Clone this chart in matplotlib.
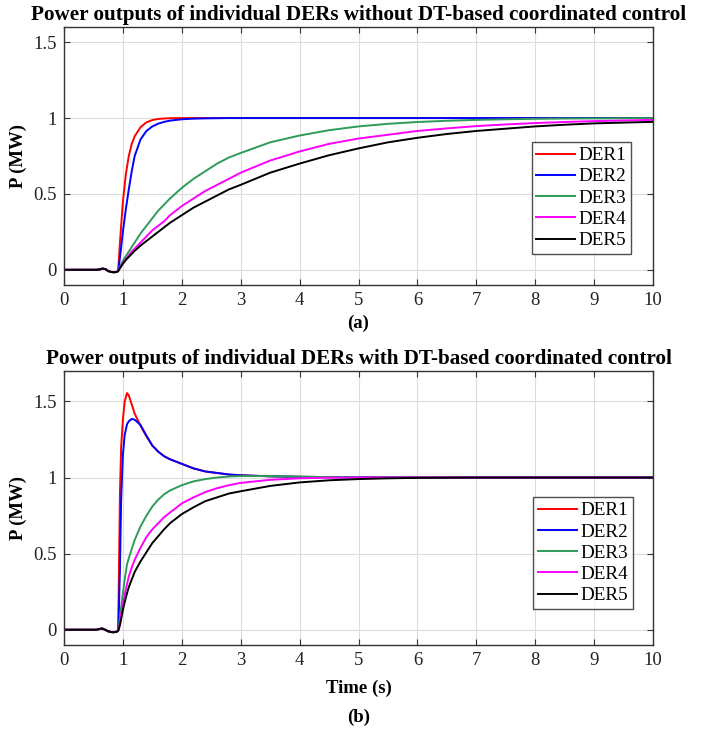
import numpy as np
import matplotlib
matplotlib.use("Agg")
import matplotlib.pyplot as plt

# ---------------------------------------------------------------------------
# Data
# ---------------------------------------------------------------------------
t_a = [0, 0.5, 0.55, 0.6, 0.65, 0.7, 0.75, 0.8, 0.85, 0.9, 0.92,
       0.95, 1.0, 1.05, 1.1, 1.15, 1.2, 1.3, 1.4, 1.5, 1.6, 1.7, 1.8,
       2.0, 2.2, 2.4, 2.6, 2.8,
       3.0, 3.5, 4.0, 4.5, 5.0, 5.5, 6.0, 6.5, 7.0, 7.5, 8.0, 8.5, 9.0, 9.5, 10.0]

pre_a = [0, 0, 0, 0.002, 0.008, 0.005, -0.008, -0.014, -0.016, -0.013, -0.008]

der1_a = pre_a + [0.18, 0.45, 0.63, 0.75, 0.83, 0.88, 0.94, 0.972, 0.987, 0.994, 0.997, 0.999,
                  1.0, 1.0, 1.0, 1.0, 1.0,
                  1.0, 1.0, 1.0, 1.0, 1.0, 1.0, 1.0, 1.0, 1.0, 1.0, 1.0, 1.0, 1.0, 1.0, 1.0]
der2_a = pre_a + [0.08, 0.25, 0.40, 0.53, 0.65, 0.75, 0.86, 0.915, 0.945, 0.963, 0.975, 0.983,
                  0.992, 0.996, 0.998, 0.999, 1.0,
                  1.0, 1.0, 1.0, 1.0, 1.0, 1.0, 1.0, 1.0, 1.0, 1.0, 1.0, 1.0, 1.0, 1.0, 1.0]
der3_a = pre_a + [0.02, 0.06, 0.09, 0.12, 0.15, 0.18, 0.24, 0.29, 0.34, 0.39, 0.43, 0.47,
                  0.54, 0.60, 0.65, 0.70, 0.74,
                  0.77, 0.84, 0.885, 0.92, 0.945, 0.962, 0.974, 0.982, 0.988, 0.992, 0.995,
                  0.997, 0.998, 0.999, 1.0]
der4_a = pre_a + [0.015, 0.045, 0.07, 0.095, 0.12, 0.14, 0.18, 0.22, 0.26, 0.29, 0.32, 0.36,
                  0.42, 0.47, 0.52, 0.56, 0.60,
                  0.64, 0.72, 0.78, 0.83, 0.865, 0.89, 0.915, 0.932, 0.947, 0.958, 0.967,
                  0.974, 0.98, 0.984, 0.988]
der5_a = pre_a + [0.01, 0.04, 0.065, 0.085, 0.105, 0.125, 0.16, 0.19, 0.22, 0.25, 0.28, 0.31,
                  0.36, 0.41, 0.45, 0.49, 0.53,
                  0.56, 0.64, 0.70, 0.755, 0.80, 0.84, 0.87, 0.895, 0.915, 0.93, 0.945,
                  0.956, 0.965, 0.97, 0.975]

t_b = [0, 0.5, 0.55, 0.6, 0.65, 0.7, 0.75, 0.8, 0.85, 0.9, 0.92,
       0.93, 0.95, 0.97, 1.0, 1.03, 1.07, 1.1, 1.15, 1.2, 1.3, 1.4, 1.5, 1.6, 1.7, 1.8,
       2.0, 2.2, 2.4, 2.6, 2.8,
       3.0, 3.5, 4.0, 4.5, 5.0, 5.5, 6.0, 6.5, 7.0, 7.5, 8.0, 8.5, 9.0, 9.5, 10.0]

pre_b = [0, 0, 0, 0.005, 0.008, 0.0, -0.01, -0.015, -0.016, -0.012, -0.006]

der1_b = pre_b + [0.3, 0.9, 1.2, 1.38, 1.5, 1.555, 1.54, 1.48, 1.42, 1.34, 1.27, 1.21, 1.17, 1.14, 1.12,
                  1.09, 1.06, 1.04, 1.03, 1.02,
                  1.015, 1.008, 1.005, 1.003, 1.002, 1.001, 1.0, 1.0, 1.0, 1.0, 1.0, 1.0, 1.0, 1.0, 1.0]
der2_b = pre_b + [0.1, 0.4, 0.85, 1.15, 1.28, 1.35, 1.37, 1.385, 1.38, 1.345, 1.275, 1.21, 1.17, 1.14, 1.12,
                  1.09, 1.06, 1.04, 1.03, 1.02,
                  1.015, 1.008, 1.005, 1.003, 1.002, 1.001, 1.0, 1.0, 1.0, 1.0, 1.0, 1.0, 1.0, 1.0, 1.0]
der3_b = pre_b + [0.02, 0.08, 0.15, 0.24, 0.33, 0.43, 0.47, 0.53, 0.59, 0.68, 0.75, 0.81, 0.855, 0.89, 0.915,
                  0.95, 0.975, 0.99, 1.0, 1.007,
                  1.01, 1.01, 1.006, 1.003, 1.001, 1.0, 1.0, 1.0, 1.0, 1.0, 1.0, 1.0, 1.0, 1.0, 1.0]
der4_b = pre_b + [0.01, 0.05, 0.1, 0.17, 0.23, 0.30, 0.35, 0.41, 0.46, 0.54, 0.61, 0.66, 0.70, 0.74, 0.77,
                  0.83, 0.87, 0.905, 0.93, 0.95,
                  0.965, 0.985, 0.995, 0.999, 1.0, 1.0, 1.0, 1.0, 1.0, 1.0, 1.0, 1.0, 1.0, 1.0, 1.0]
der5_b = pre_b + [0.005, 0.03, 0.07, 0.13, 0.18, 0.24, 0.28, 0.33, 0.38, 0.45, 0.51, 0.57, 0.615, 0.66, 0.70,
                  0.76, 0.805, 0.845, 0.87, 0.895,
                  0.91, 0.945, 0.968, 0.982, 0.99, 0.995, 0.998, 0.999, 1.0, 1.0, 1.0, 1.0, 1.0, 1.0, 1.0]

labels = ["DER1", "DER2", "DER3", "DER4", "DER5"]
colors = ["#ff0000", "#0000ff", "#2e9b5a", "#ff00ff", "#000000"]

# ---------------------------------------------------------------------------
# Plot
# ---------------------------------------------------------------------------
plt.rcParams.update({
    "font.family": ["Liberation Serif", "DejaVu Serif"],
    "font.size": 13,
    "axes.linewidth": 1.0,
    "xtick.direction": "in",
    "ytick.direction": "in",
    "xtick.top": True,
    "ytick.right": True,
    "xtick.major.size": 4,
    "ytick.major.size": 4,
})

W, H = 704, 734
fig = plt.figure(figsize=(W / 100, H / 100), dpi=100)

def box(x0, y0, x1, y1):
    # pixel box (top-left origin) -> figure fraction
    return [x0 / W, 1 - y1 / H, (x1 - x0) / W, (y1 - y0) / H]

ax_a = fig.add_axes(box(64, 27, 653, 285))
ax_b = fig.add_axes(box(64, 371, 653, 645))

panels = [
    (ax_a, t_a, [der1_a, der2_a, der3_a, der4_a, der5_a], (-0.1, 1.6), (0.963, 0.12),
     "Power outputs of individual DERs without DT-based coordinated control"),
    (ax_b, t_b, [der1_b, der2_b, der3_b, der4_b, der5_b], (-0.1, 1.7), (0.966, 0.131),
     "Power outputs of individual DERs with DT-based coordinated control"),
]

for ax, t, series, ylim, anchor, title in panels:
    for ys, c, lab in zip(series, colors, labels):
        ax.plot(t, ys, color=c, lw=1.4, label=lab)
    ax.set_xlim(0, 10)
    ax.set_ylim(*ylim)
    ax.set_xticks(range(0, 11))
    ax.set_yticks([0, 0.5, 1, 1.5])
    ax.set_yticklabels(["0", "0.5", "1", "1.5"])
    ax.grid(True, color="#dcdcdc", lw=0.8)
    ax.set_axisbelow(True)
    for s in ax.spines.values():
        s.set_color("#333333")
    ax.tick_params(colors="#333333", labelcolor="#222222", labelsize=13.5, pad=5)
    ax.set_title(title, fontsize=15.2, fontweight="bold", pad=5)
    ax.set_ylabel("P (MW)", fontsize=13.5, fontweight="bold")
    ax.yaxis.set_label_coords(-0.062, 0.5)
    leg = ax.legend(loc="lower right", bbox_to_anchor=anchor, fontsize=13.8,
                    frameon=True, fancybox=False, edgecolor="#222222",
                    handlelength=2.0, handletextpad=0.2, labelspacing=0.2,
                    borderpad=0.25, borderaxespad=0.0)
    leg.get_frame().set_linewidth(1.0)

ax_b.set_xlabel("Time (s)", fontsize=13.5, fontweight="bold", labelpad=8)

fig.text(358.5 / W, 1 - 323 / H, "(a)", ha="center", va="center",
         fontsize=13.5, fontweight="bold")
fig.text(358.5 / W, 1 - 717 / H, "(b)", ha="center", va="center",
         fontsize=13.5, fontweight="bold")

fig.savefig("out.png", dpi=100)
plt.close(fig)
